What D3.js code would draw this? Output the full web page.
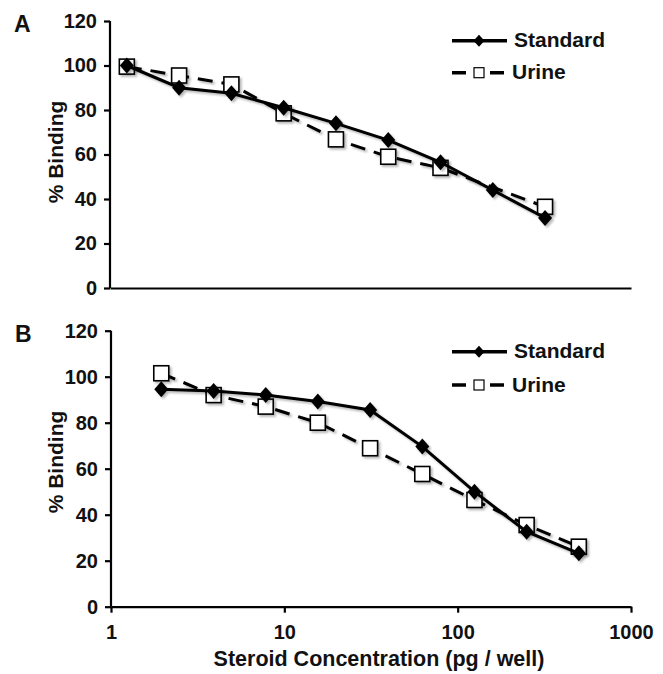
<!DOCTYPE html>
<html>
<head>
<meta charset="utf-8">
<script src="https://cdn.jsdelivr.net/npm/d3@7"></script>
<style>
  body { margin: 0; background: #fff; }
  svg { display: block; font-family: "Liberation Sans", Arial, sans-serif; }
</style>
</head>
<body>
<div id="chart"></div>
<script>
// data
const xTicks = [1, 10, 100, 1000]
const yTicks = [0, 20, 40, 60, 80, 100, 120]

// panel A
const concA = [1.25, 2.5, 5, 10, 20, 40, 80, 160, 320]
const standardA = [100, 90, 87.5, 81, 74, 66.5, 56.5, 44, 31.5]
const urineConcA = [1.25, 2.5, 5, 10, 20, 40, 80, 320]
const urineA = [99.5, 95.5, 91.5, 78.5, 66.8, 59, 54, 36.5]

// panel B
const concB = [1.95, 3.91, 7.81, 15.6, 31.25, 62.5, 125, 250, 500]
const standardB = [94.5, 93.8, 92, 89.2, 85.5, 69.6, 50, 32.6, 23.2]
const urineB = [101.5, 92, 87, 80, 68.9, 57.7, 46.4, 35.5, 26.1]

const W = 663, H = 674

const svg = d3.select('#chart').append('svg')
  .attr('width', W)
  .attr('height', H)

// soft grey shadow like the Excel original
const defs = svg.append('defs')
defs.append('filter')
  .attr('id', 'shadow')
  .attr('x', '-20%').attr('y', '-20%')
  .attr('width', '140%').attr('height', '140%')
  .append('feDropShadow')
  .attr('dx', 2).attr('dy', 2)
  .attr('stdDeviation', 1.2)
  .attr('flood-color', '#000')
  .attr('flood-opacity', 0.28)

const diamond = (hw, hh) => `M0,${-hh}L${hw},0L0,${hh}L${-hw},0Z`

function drawPanel (p) {
  const g = svg.append('g')

  const x = d3.scaleLog().domain([1, 1000]).range([p.left, p.right])
  const y = d3.scaleLinear().domain([0, 120]).range([p.bottom, p.top])

  // y axis
  const yAxis = d3.axisLeft(y).tickValues(yTicks).tickSize(6).tickPadding(7)
  const ya = g.append('g')
    .attr('transform', `translate(${p.left},0)`)
    .call(yAxis)
  ya.select('.domain').attr('d', `M0,${p.top}V${p.bottom}`)
  ya.selectAll('line, path').attr('stroke', '#000').attr('stroke-width', 2.2)
  ya.selectAll('text')
    .attr('font-size', 20).attr('font-weight', 'bold').attr('fill', '#111')

  // x axis
  const xAxis = d3.axisBottom(x).tickValues(p.showX ? xTicks : [])
    .tickFormat(d3.format('d')).tickSize(6).tickPadding(12).tickSizeOuter(0)
  const xa = g.append('g')
    .attr('transform', `translate(0,${p.bottom})`)
    .call(xAxis)
  xa.selectAll('line, path').attr('stroke', '#000').attr('stroke-width', 2.2)
  xa.selectAll('text')
    .attr('font-size', 20).attr('font-weight', 'bold').attr('fill', '#111')

  // y title
  g.append('text')
    .attr('transform', `translate(${p.yTitleX},${p.yTitleY}) rotate(-90)`)
    .attr('text-anchor', 'middle')
    .attr('font-size', 21).attr('font-weight', 'bold').attr('fill', '#111')
    .text('% Binding')

  // panel letter
  g.append('text')
    .attr('x', p.letterX).attr('y', p.letterY)
    .attr('font-size', 23).attr('font-weight', 'bold').attr('fill', '#111')
    .text(p.letter)

  const line = d3.line().x(d => x(d[0])).y(d => y(d[1]))
  const urine = d3.zip(p.urineConc, p.urine)
  const standard = d3.zip(p.conc, p.standard)

  // urine (dashed, open squares)
  const gu = g.append('g').attr('filter', 'url(#shadow)')
  gu.append('path')
    .datum(urine)
    .attr('fill', 'none')
    .attr('stroke', '#000')
    .attr('stroke-width', 3)
    .attr('stroke-dasharray', '15,9')
    .attr('d', line)
  gu.selectAll('rect')
    .data(urine)
    .join('rect')
    .attr('x', d => x(d[0]) - 7.5)
    .attr('y', d => y(d[1]) - 7.5)
    .attr('width', 15).attr('height', 15)
    .attr('fill', '#fff')
    .attr('stroke', '#000')
    .attr('stroke-width', 1.6)

  // standard (solid, filled diamonds)
  const gs = g.append('g').attr('filter', 'url(#shadow)')
  gs.append('path')
    .datum(standard)
    .attr('fill', 'none')
    .attr('stroke', '#000')
    .attr('stroke-width', 3)
    .attr('d', line)
  gs.selectAll('.mk')
    .data(standard)
    .join('path')
    .attr('class', 'mk')
    .attr('transform', d => `translate(${x(d[0])},${y(d[1])})`)
    .attr('d', diamond(7, 8))
    .attr('fill', '#000')

  // legend
  const lg = g.append('g')
  lg.append('line')
    .attr('x1', 452).attr('x2', 507)
    .attr('y1', p.legY1).attr('y2', p.legY1)
    .attr('stroke', '#000').attr('stroke-width', 3.5)
  lg.append('path')
    .attr('transform', `translate(479,${p.legY1})`)
    .attr('d', diamond(5.5, 6))
    .attr('fill', '#000')
  lg.append('text')
    .attr('x', 514).attr('y', p.legY1 + 6.7)
    .attr('font-size', 21).attr('font-weight', 'bold').attr('fill', '#111')
    .text('Standard')

  lg.append('line')
    .attr('x1', 452).attr('x2', 504)
    .attr('y1', p.legY2).attr('y2', p.legY2)
    .attr('stroke', '#000').attr('stroke-width', 3.5)
    .attr('stroke-dasharray', '14,24')
  lg.append('rect')
    .attr('x', 474).attr('y', p.legY2 - 5)
    .attr('width', 10).attr('height', 10)
    .attr('fill', '#fff').attr('stroke', '#000').attr('stroke-width', 1.2)
  lg.append('text')
    .attr('x', 512).attr('y', p.legY2 + 6.7)
    .attr('font-size', 21).attr('font-weight', 'bold').attr('fill', '#111')
    .text('Urine')
}

drawPanel({
  letter: 'A', letterX: 14, letterY: 32,
  left: 110, right: 631, top: 21, bottom: 288,
  showX: false,
  yTitleX: 63, yTitleY: 152,
  legY1: 40.7, legY2: 72.7,
  conc: concA, standard: standardA,
  urineConc: urineConcA, urine: urineA
})

drawPanel({
  letter: 'B', letterX: 15, letterY: 342,
  left: 111, right: 631, top: 330.7, bottom: 606.7,
  showX: true,
  yTitleX: 63, yTitleY: 462,
  legY1: 351.7, legY2: 385,
  conc: concB, standard: standardB,
  urineConc: concB, urine: urineB
})

// x title
svg.append('text')
  .attr('x', 379).attr('y', 666)
  .attr('text-anchor', 'middle')
  .attr('font-size', 21.5).attr('font-weight', 'bold').attr('fill', '#111')
  .text('Steroid Concentration (pg / well)')
</script>
</body>
</html>
